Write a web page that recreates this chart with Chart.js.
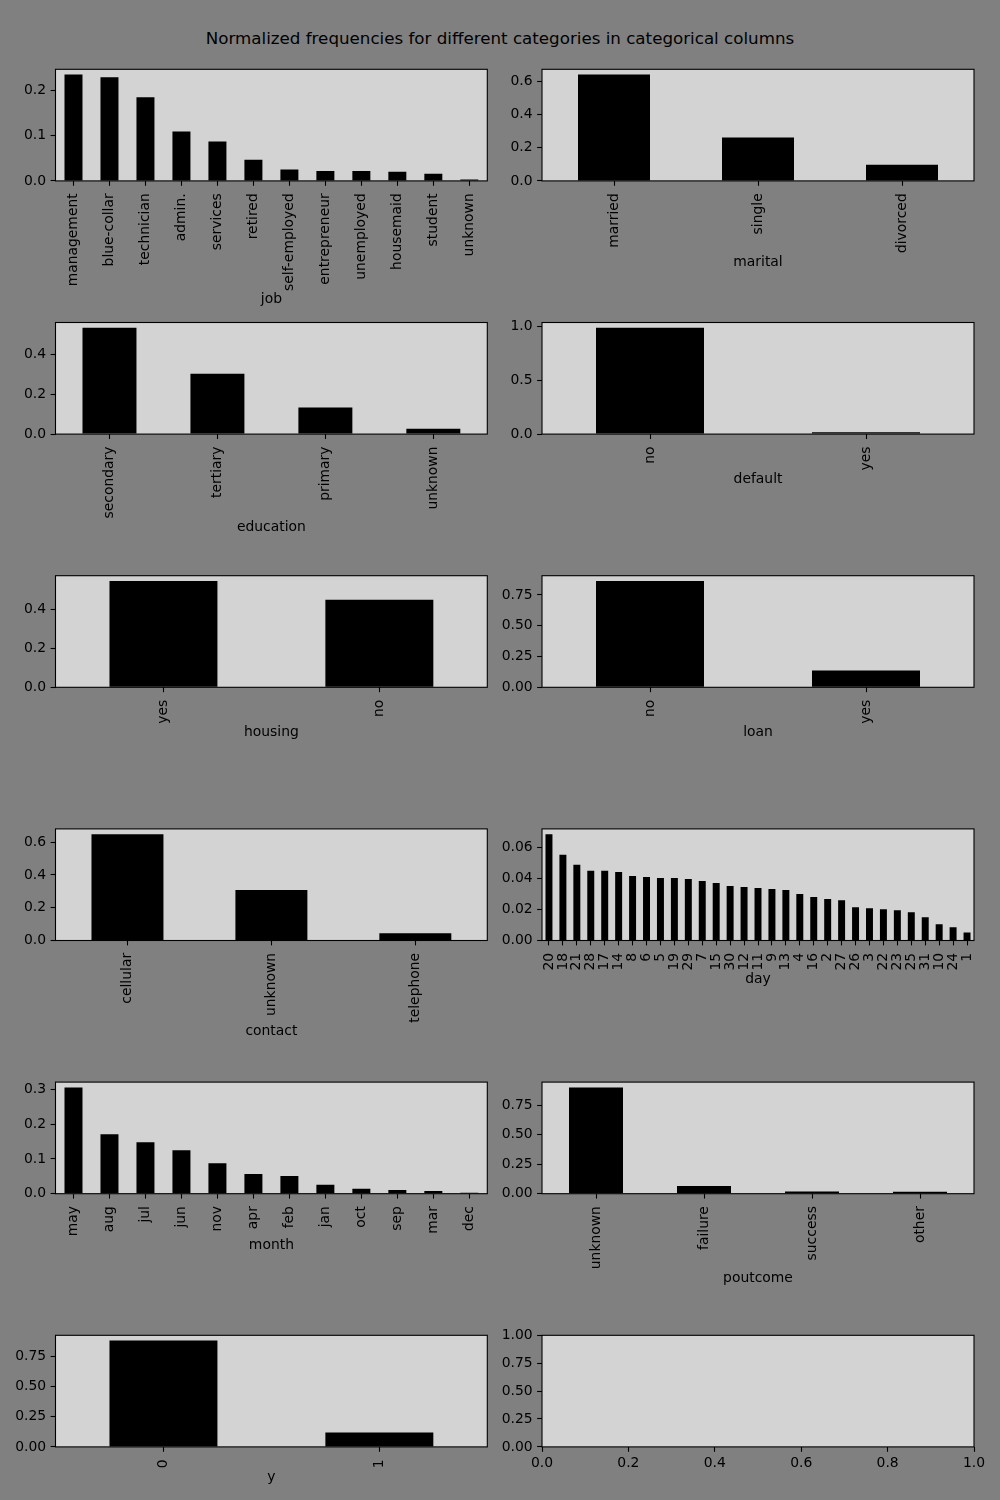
<!DOCTYPE html>
<html>
<head>
<meta charset="utf-8">
<script src="https://cdn.jsdelivr.net/npm/chart.js@4.4.0/dist/chart.umd.min.js"></script>
<style>
  html, body { margin: 0; padding: 0; background: #808080; }
  body { width: 1000px; height: 1500px; position: relative; overflow: hidden; font-family: "DejaVu Sans", sans-serif; }
  #title { position: absolute; left: 0; top: 28px; width: 1000px; text-align: center; font-size: 16.7px; line-height: 20px; color: #000; }
  canvas { position: absolute; }
</style>
</head>
<body>
<div id="title">Normalized frequencies for different categories in categorical columns</div>
<script>
// data
var jobLabels = ['management', 'blue-collar', 'technician', 'admin.', 'services', 'retired', 'self-employed', 'entrepreneur', 'unemployed', 'housemaid', 'student', 'unknown'];
var jobValues = [0.235, 0.229, 0.185, 0.109, 0.087, 0.047, 0.025, 0.022, 0.022, 0.020, 0.016, 0.003];
var jobTicks = [0, 0.1, 0.2];

var maritalLabels = ['married', 'single', 'divorced'];
var maritalValues = [0.641, 0.262, 0.097];
var maritalTicks = [0, 0.2, 0.4, 0.6];

var educationLabels = ['secondary', 'tertiary', 'primary', 'unknown'];
var educationValues = [0.535, 0.304, 0.134, 0.027];
var educationTicks = [0, 0.2, 0.4];

var defaultLabels = ['no', 'yes'];
var defaultValues = [0.984, 0.018];
var defaultTicks = [0, 0.5, 1.0];

var housingLabels = ['yes', 'no'];
var housingValues = [0.548, 0.452];
var housingTicks = [0, 0.2, 0.4];

var loanLabels = ['no', 'yes'];
var loanValues = [0.863, 0.137];
var loanTicks = [0, 0.25, 0.5, 0.75];

var contactLabels = ['cellular', 'unknown', 'telephone'];
var contactValues = [0.648, 0.308, 0.044];
var contactTicks = [0, 0.2, 0.4, 0.6];

var dayLabels = ['20', '18', '21', '28', '17', '14', '8', '6', '5', '19', '29', '7', '15', '30', '12', '11', '9', '13', '4', '16', '2', '27', '26', '3', '22', '23', '25', '31', '10', '24', '1'];
var dayValues = [0.0685, 0.0553, 0.0488, 0.0449, 0.0449, 0.0442, 0.0416, 0.0410, 0.0403, 0.0403, 0.0397, 0.0384, 0.0371, 0.0351, 0.0345, 0.0338, 0.0332, 0.0325, 0.0299, 0.0280, 0.0267, 0.0260, 0.0215, 0.0208, 0.0202, 0.0195, 0.0182, 0.0150, 0.0104, 0.0085, 0.0052];
var dayTicks = [0, 0.02, 0.04, 0.06];

var monthLabels = ['may', 'aug', 'jul', 'jun', 'nov', 'apr', 'feb', 'jan', 'oct', 'sep', 'mar', 'dec'];
var monthValues = [0.306, 0.171, 0.148, 0.125, 0.088, 0.057, 0.051, 0.026, 0.014, 0.011, 0.008, 0.003];
var monthTicks = [0, 0.1, 0.2, 0.3];

var poutcomeLabels = ['unknown', 'failure', 'success', 'other'];
var poutcomeValues = [0.900, 0.066, 0.018, 0.016];
var poutcomeTicks = [0, 0.25, 0.5, 0.75];

var yLabels = ['0', '1'];
var yValues = [0.880, 0.120];
var yTicks = [0, 0.25, 0.5, 0.75];

var emptyXTicks = [0, 0.2, 0.4, 0.6, 0.8, 1.0];
var emptyYTicks = [0, 0.25, 0.5, 0.75, 1.0];

// layout
var rowTops = [69.3, 322.5, 575.7, 828.9, 1082.1, 1335.3];
var plotHeight = 111.6;
var colLeft = [0, 500];
var yAxisWidth = [55.5, 42];
var rightPad = [12.7, 26];

var panels = [
    {name: 'job', labels: jobLabels, values: jobValues, ticks: jobTicks, dec: 1, row: 0, col: 0, titleY: 299},
    {name: 'marital', labels: maritalLabels, values: maritalValues, ticks: maritalTicks, dec: 1, row: 0, col: 1, titleY: 262},
    {name: 'education', labels: educationLabels, values: educationValues, ticks: educationTicks, dec: 1, row: 1, col: 0, titleY: 527},
    {name: 'default', labels: defaultLabels, values: defaultValues, ticks: defaultTicks, dec: 1, row: 1, col: 1, titleY: 479},
    {name: 'housing', labels: housingLabels, values: housingValues, ticks: housingTicks, dec: 1, row: 2, col: 0, titleY: 732},
    {name: 'loan', labels: loanLabels, values: loanValues, ticks: loanTicks, dec: 2, row: 2, col: 1, titleY: 732},
    {name: 'contact', labels: contactLabels, values: contactValues, ticks: contactTicks, dec: 1, row: 3, col: 0, titleY: 1031},
    {name: 'day', labels: dayLabels, values: dayValues, ticks: dayTicks, dec: 2, row: 3, col: 1, titleY: 979},
    {name: 'month', labels: monthLabels, values: monthValues, ticks: monthTicks, dec: 1, row: 4, col: 0, titleY: 1245},
    {name: 'poutcome', labels: poutcomeLabels, values: poutcomeValues, ticks: poutcomeTicks, dec: 2, row: 4, col: 1, titleY: 1278},
    {name: 'y', labels: yLabels, values: yValues, ticks: yTicks, dec: 2, row: 5, col: 0, titleY: 1477}
];

Chart.defaults.font.family = "'DejaVu Sans', sans-serif";
Chart.defaults.font.size = 13.9;
Chart.defaults.color = '#000';
Chart.defaults.animation = false;

// light grey face + black frame like matplotlib axes
var axesBox = {
    id: 'axesBox',
    beforeDraw: function (chart) {
        var a = chart.chartArea, ctx = chart.ctx;
        ctx.save();
        ctx.fillStyle = '#d3d3d3';
        ctx.fillRect(a.left, a.top, a.right - a.left, a.bottom - a.top);
        ctx.restore();
    },
    afterDraw: function (chart) {
        var a = chart.chartArea, ctx = chart.ctx;
        ctx.save();
        ctx.strokeStyle = '#000';
        ctx.lineWidth = 1.1;
        ctx.strokeRect(a.left, a.top, a.right - a.left, a.bottom - a.top);
        ctx.restore();
    }
};

function tickGrid(offset) {
    return {display: true, drawOnChartArea: false, drawTicks: true, tickLength: 4.9, tickWidth: 1.1, tickColor: '#000', offset: offset};
}

function makeCanvas(row, col, bottom) {
    var top = Math.floor(rowTops[row]) - 15;
    var h = Math.ceil(bottom - top);
    var c = document.createElement('canvas');
    c.width = 500;
    c.height = h;
    c.style.left = colLeft[col] + 'px';
    c.style.top = top + 'px';
    c.style.width = '500px';
    c.style.height = h + 'px';
    document.body.appendChild(c);
    return {canvas: c, top: top, h: h};
}

panels.forEach(function (p) {
    var halfLine = 13.9 * 1.2 / 2;
    var bottom = p.titleY + halfLine;
    var box = makeCanvas(p.row, p.col, bottom);
    var plotTop = rowTops[p.row];
    var xh = bottom - (plotTop + plotHeight);
    var ymax = 1.05 * Math.max.apply(null, p.values);

    new Chart(box.canvas.getContext('2d'), {
        type: 'bar',
        data: {
            labels: p.labels,
            datasets: [{
                data: p.values,
                backgroundColor: '#000',
                borderWidth: 0,
                barPercentage: 0.5,
                categoryPercentage: 1.0
            }]
        },
        options: {
            responsive: false,
            animation: false,
            layout: {padding: {top: plotTop - box.top, bottom: box.h - (bottom - box.top), left: 0, right: rightPad[p.col]}},
            plugins: {legend: {display: false}, tooltip: {enabled: false}},
            scales: {
                x: {
                    grid: tickGrid(false),
                    border: {display: false},
                    ticks: {autoSkip: false, minRotation: 90, maxRotation: 90, padding: 7.5, color: '#000'},
                    title: {display: true, text: p.name, padding: 0, color: '#000', font: {lineHeight: 1.2}},
                    afterFit: function (s) { s.height = xh; }
                },
                y: {
                    min: 0,
                    max: ymax,
                    bounds: 'data',
                    grid: tickGrid(false),
                    border: {display: false},
                    ticks: {padding: 4.5, color: '#000', callback: function (v) { return v.toFixed(p.dec); }},
                    afterBuildTicks: function (s) { s.ticks = p.ticks.map(function (v) { return {value: v}; }); },
                    afterFit: function (s) { s.width = yAxisWidth[p.col]; }
                }
            }
        },
        plugins: [axesBox]
    });
});

// the unused 14th axes
(function () {
    var bottom = rowTops[5] + plotHeight + 32;
    var box = makeCanvas(5, 1, bottom);
    var plotTop = rowTops[5];
    new Chart(box.canvas.getContext('2d'), {
        type: 'scatter',
        data: {datasets: [{data: []}]},
        options: {
            responsive: false,
            animation: false,
            layout: {padding: {top: plotTop - box.top, bottom: box.h - (bottom - box.top), left: 0, right: rightPad[1]}},
            plugins: {legend: {display: false}, tooltip: {enabled: false}},
            scales: {
                x: {
                    type: 'linear', min: 0, max: 1, bounds: 'data',
                    grid: tickGrid(false),
                    border: {display: false},
                    ticks: {minRotation: 0, maxRotation: 0, padding: 3, color: '#000', callback: function (v) { return v.toFixed(1); }},
                    afterBuildTicks: function (s) { s.ticks = emptyXTicks.map(function (v) { return {value: v}; }); },
                    afterFit: function (s) { s.height = 32; }
                },
                y: {
                    type: 'linear', min: 0, max: 1, bounds: 'data',
                    grid: tickGrid(false),
                    border: {display: false},
                    ticks: {padding: 4.5, color: '#000', callback: function (v) { return v.toFixed(2); }},
                    afterBuildTicks: function (s) { s.ticks = emptyYTicks.map(function (v) { return {value: v}; }); },
                    afterFit: function (s) { s.width = yAxisWidth[1]; }
                }
            }
        },
        plugins: [axesBox]
    });
})();
</script>
</body>
</html>
